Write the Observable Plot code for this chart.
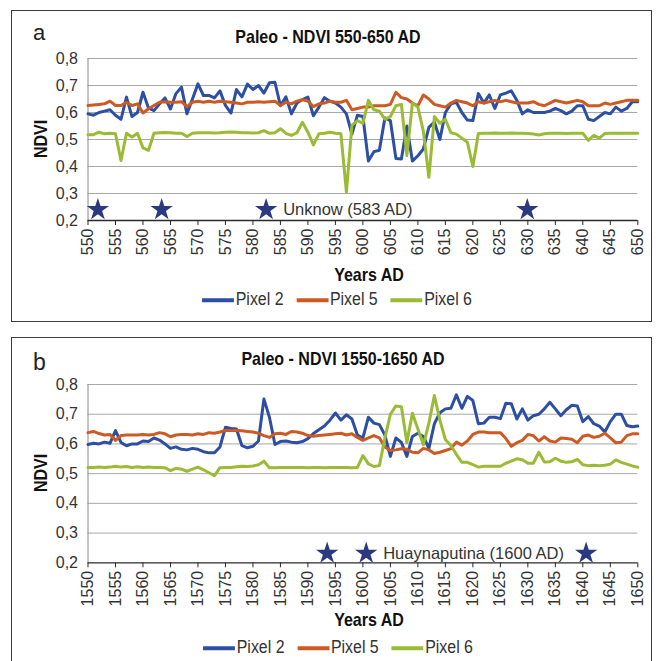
<!DOCTYPE html>
<html><head><meta charset="utf-8">
<script src="https://cdn.jsdelivr.net/npm/d3@7"></script>
<script src="https://cdn.jsdelivr.net/npm/@observablehq/plot@0.6"></script>
<style>
body{margin:0;background:#fff;font-family:"Liberation Sans",Arial,sans-serif;color:#222;}
#root{position:relative;width:660px;height:661px;overflow:hidden;background:#fff;}
.frame{position:absolute;border:1.5px solid #3c3c3c;box-sizing:border-box;}
.abs{position:absolute;white-space:nowrap;transform:translate(-50%,-50%);line-height:1;}
.title{font-weight:bold;font-size:18.5px;color:#111;transform:translate(-50%,-50%) scaleX(0.865);}
.ylab{font-weight:bold;font-size:18.5px;color:#111;transform:translate(-50%,-50%) rotate(-90deg) scaleX(0.865);}
.xlab{font-weight:bold;font-size:18.5px;color:#111;transform:translate(-50%,-50%) scaleX(0.865);}
.letter{position:absolute;font-size:22px;color:#222;line-height:1;}
.legend{display:flex;align-items:center;font-size:17.5px;color:#333;transform:translate(-50%,-50%) scaleX(0.91);}
.legend .sw{display:inline-block;width:35px;height:4px;margin-right:2px;}
.legend .it{display:flex;align-items:center;margin-right:14px;}
.legend .it:last-child{margin-right:0;}
svg{position:absolute;left:0;overflow:visible;}
</style>
</head><body>
<div id="root">
  <div class="frame" style="left:11px;top:10px;width:641px;height:312px"></div>
  <div class="frame" style="left:11px;top:337px;width:641px;height:340px"></div>
</div>
<script>
// ---------- data ----------
const seriesNames = ["Pixel 2", "Pixel 5", "Pixel 6"];
const seriesColors = ["#2c4fa3", "#cc5a22", "#9bbb34"];

const yearsA = d3.range(550, 651);
const pixel2A = [
0.595,0.59,0.60,0.605,0.61,0.59,0.575,0.657,0.585,0.60,
0.675,0.617,0.607,0.632,0.654,0.613,0.67,0.694,0.595,0.65,
0.706,0.663,0.663,0.654,0.68,0.626,0.598,0.685,0.658,0.705,
0.685,0.70,0.672,0.71,0.712,0.625,0.658,0.595,0.635,0.648,
0.657,0.588,0.62,0.655,0.642,0.635,0.62,0.595,0.52,0.59,
0.585,0.42,0.455,0.46,0.58,0.57,0.43,0.428,0.55,0.42,
0.44,0.465,0.545,0.565,0.50,0.60,0.632,0.638,0.60,0.572,
0.57,0.67,0.635,0.665,0.615,0.665,0.672,0.68,0.645,0.595,
0.61,0.60,0.60,0.60,0.605,0.615,0.607,0.595,0.605,0.625,
0.625,0.575,0.57,0.585,0.60,0.595,0.62,0.605,0.615,0.64,
0.64];
const pixel5A = [
0.626,0.628,0.63,0.632,0.642,0.626,0.626,0.638,0.626,0.632,
0.598,0.614,0.626,0.638,0.64,0.638,0.638,0.64,0.622,0.638,
0.642,0.638,0.642,0.638,0.642,0.64,0.638,0.635,0.632,0.638,
0.638,0.64,0.638,0.64,0.642,0.626,0.638,0.632,0.642,0.647,
0.642,0.622,0.632,0.635,0.642,0.638,0.638,0.645,0.61,0.615,
0.62,0.62,0.625,0.625,0.625,0.63,0.675,0.655,0.65,0.635,
0.625,0.665,0.65,0.63,0.625,0.62,0.635,0.645,0.64,0.635,
0.625,0.64,0.635,0.64,0.645,0.64,0.645,0.64,0.635,0.635,
0.635,0.64,0.63,0.625,0.635,0.645,0.64,0.635,0.64,0.645,
0.64,0.625,0.625,0.625,0.635,0.63,0.635,0.64,0.645,0.645,
0.645];
const pixel6A = [
0.518,0.518,0.527,0.521,0.523,0.521,0.422,0.523,0.509,0.523,
0.469,0.46,0.523,0.525,0.526,0.525,0.523,0.523,0.511,0.523,
0.525,0.525,0.525,0.524,0.525,0.527,0.528,0.527,0.525,0.525,
0.524,0.525,0.533,0.523,0.525,0.54,0.523,0.515,0.525,0.564,
0.527,0.48,0.521,0.523,0.527,0.523,0.521,0.305,0.552,0.57,
0.56,0.645,0.61,0.605,0.575,0.585,0.625,0.63,0.44,0.635,
0.62,0.53,0.36,0.585,0.56,0.575,0.525,0.52,0.505,0.49,
0.40,0.522,0.523,0.523,0.524,0.523,0.523,0.524,0.523,0.523,
0.522,0.52,0.517,0.521,0.523,0.523,0.523,0.522,0.523,0.523,
0.523,0.497,0.515,0.505,0.522,0.523,0.523,0.523,0.523,0.523,
0.523];

const yearsB = d3.range(1550, 1651);
const pixel2B = [
0.598,0.602,0.60,0.606,0.602,0.645,0.605,0.594,0.60,0.60,
0.61,0.608,0.62,0.613,0.60,0.585,0.59,0.582,0.58,0.585,
0.582,0.574,0.57,0.57,0.59,0.656,0.652,0.65,0.594,0.587,
0.592,0.61,0.751,0.69,0.598,0.608,0.61,0.606,0.604,0.608,
0.618,0.635,0.648,0.66,0.68,0.704,0.68,0.698,0.684,0.63,
0.62,0.69,0.67,0.665,0.63,0.558,0.62,0.605,0.558,0.625,
0.636,0.625,0.585,0.668,0.705,0.718,0.72,0.765,0.72,0.76,
0.746,0.668,0.67,0.69,0.69,0.685,0.737,0.735,0.684,0.718,
0.68,0.695,0.70,0.718,0.74,0.718,0.695,0.715,0.73,0.728,
0.675,0.692,0.668,0.66,0.64,0.675,0.70,0.70,0.662,0.658,
0.66];
const pixel5B = [
0.638,0.642,0.635,0.63,0.632,0.612,0.628,0.63,0.63,0.63,
0.632,0.63,0.632,0.638,0.634,0.624,0.63,0.632,0.632,0.63,
0.634,0.632,0.638,0.636,0.64,0.645,0.645,0.645,0.644,0.642,
0.64,0.636,0.628,0.622,0.634,0.636,0.632,0.642,0.64,0.636,
0.628,0.626,0.628,0.63,0.632,0.634,0.636,0.63,0.634,0.622,
0.612,0.62,0.628,0.62,0.59,0.578,0.58,0.584,0.582,0.572,
0.57,0.585,0.58,0.568,0.572,0.578,0.584,0.606,0.596,0.61,
0.632,0.64,0.64,0.638,0.638,0.638,0.618,0.592,0.604,0.612,
0.632,0.628,0.61,0.624,0.61,0.606,0.62,0.618,0.616,0.604,
0.626,0.63,0.622,0.626,0.636,0.62,0.604,0.606,0.628,0.634,
0.634];
const pixel6B = [
0.521,0.521,0.522,0.521,0.522,0.525,0.522,0.524,0.521,0.523,
0.521,0.522,0.521,0.521,0.52,0.51,0.518,0.515,0.508,0.515,
0.522,0.513,0.503,0.493,0.52,0.521,0.521,0.523,0.525,0.524,
0.526,0.53,0.542,0.52,0.52,0.521,0.521,0.521,0.521,0.521,
0.52,0.521,0.521,0.52,0.521,0.521,0.521,0.521,0.52,0.521,
0.561,0.533,0.524,0.527,0.62,0.70,0.728,0.725,0.605,0.703,
0.65,0.597,0.67,0.763,0.68,0.615,0.595,0.565,0.538,0.538,
0.53,0.522,0.525,0.525,0.525,0.525,0.535,0.542,0.55,0.547,
0.535,0.535,0.572,0.539,0.54,0.552,0.542,0.538,0.54,0.548,
0.53,0.527,0.528,0.527,0.528,0.532,0.546,0.538,0.532,0.526,
0.522];

const yTicks = [0.2, 0.3, 0.4, 0.5, 0.6, 0.7, 0.8];
const gridTicks = [0.3, 0.4, 0.5, 0.6, 0.7, 0.8];
const xTicksA = d3.range(550, 651, 5);
const xTicksB = d3.range(1550, 1651, 5);

const starYearsA = [551.8, 563.4, 582.4, 629.9];
const starLevelA = 0.24;
const eventA = {year: 582.4, text: "Unknow (583 AD)"};
const starYearsB = [1593.5, 1600.6, 1640.6];
const starLevelB = 0.232;
const eventB = {year: 1600.6, text: "Huaynaputina (1600 AD)"};

const titles = ["Paleo - NDVI 550-650 AD", "Paleo - NDVI 1550-1650 AD"];
const panelLetters = ["a", "b"];
const yLabel = "NDVI";
const xLabel = "Years AD";

// ---------- build ----------
const root = document.getElementById("root");
const fmt = d => d.toFixed(1).replace(".", ",");

function rows(years, arrs) {
  const out = [];
  arrs.forEach((arr, i) => arr.forEach((v, j) => out.push({year: years[j], value: v, series: seriesNames[i]})));
  return out;
}

function panel({years, arrs, xTicks, starYears, starLevel, event, top, height, mTop, mBottom}) {
  const data = rows(years, arrs);
  const stars = starYears.map(y => ({year: y, value: starLevel}));
  const svg = Plot.plot({
    width: 660, height,
    marginLeft: 87.5, marginRight: 22.7, marginTop: mTop, marginBottom: mBottom,
    style: {fontFamily: "'Liberation Sans', Arial, sans-serif", fontSize: "16px", background: "transparent", color: "#333"},
    x: {domain: [years[0], years[years.length - 1]]},
    y: {domain: [0.2, 0.8]},
    color: {domain: seriesNames, range: seriesColors},
    marks: [
      Plot.gridY(gridTicks, {stroke: "#a8a8a8", strokeOpacity: 1, strokeWidth: 1}),
      Plot.ruleX([years[0]], {stroke: "#8a8a8a", strokeWidth: 1}),
      Plot.ruleY([0.2], {stroke: "#2a2a2a", strokeWidth: 1.3}),
      Plot.axisX({ticks: xTicks, tickRotate: -90, tickSize: 5, tickPadding: 3, fontSize: 16,
                  tickFormat: d => String(d), label: null, stroke: "#2a2a2a", fill: "#333"}),
      Plot.axisY({ticks: yTicks, tickSize: 0, tickPadding: 10, fontSize: 16,
                  tickFormat: fmt, label: null, fill: "#333"}),
      Plot.line(data, {x: "year", y: "value", z: "series", stroke: "series", strokeWidth: 3,
                       strokeLinejoin: "round", strokeLinecap: "round"}),
      Plot.dot(stars, {x: "year", y: "value", symbol: "star", r: 7, fill: "#2b3a80", stroke: "none"}),
      Plot.text([event], {x: "year", y: () => starLevel, text: "text", textAnchor: "start", dx: 17,
                          fontSize: 16.5, fill: "#333"})
    ]
  });
  svg.style.top = top + "px";
  root.appendChild(svg);
}

panel({years: yearsA, arrs: [pixel2A, pixel5A, pixel6A], xTicks: xTicksA, starYears: starYearsA,
       starLevel: starLevelA, event: eventA, top: 0, height: 270, mTop: 58, mBottom: 50});
panel({years: yearsB, arrs: [pixel2B, pixel5B, pixel6B], xTicks: xTicksB, starYears: starYearsB,
       starLevel: starLevelB, event: eventB, top: 330, height: 280, mTop: 54, mBottom: 47.7});

function addText(cls, txt, x, y) {
  const d = document.createElement("div");
  d.className = "abs " + cls;
  d.textContent = txt;
  d.style.left = x + "px"; d.style.top = y + "px";
  root.appendChild(d);
  return d;
}
function addLetter(txt, x, y, size) {
  const d = document.createElement("div");
  d.className = "letter";
  d.textContent = txt;
  d.style.left = x + "px"; d.style.top = y + "px"; d.style.fontSize = size + "px";
  root.appendChild(d);
}
function addLegend(x, y) {
  const d = document.createElement("div");
  d.className = "abs legend";
  seriesNames.forEach((n, i) => {
    const it = document.createElement("span"); it.className = "it";
    const sw = document.createElement("span"); sw.className = "sw"; sw.style.background = seriesColors[i];
    const t = document.createElement("span"); t.textContent = n;
    it.appendChild(sw); it.appendChild(t); d.appendChild(it);
  });
  d.style.left = x + "px"; d.style.top = y + "px";
  root.appendChild(d);
}

addLetter(panelLetters[0], 33, 22, 22);
addText("title", titles[0], 328, 37);
addText("ylab", yLabel, 41, 139);
addText("xlab", xLabel, 369, 275);
addLegend(337, 300);

addLetter(panelLetters[1], 33, 351, 23);
addText("title", titles[1], 343, 359);
addText("ylab", yLabel, 41, 473);
addText("xlab", xLabel, 369, 620);
addLegend(338, 648);
</script>
</body></html>
